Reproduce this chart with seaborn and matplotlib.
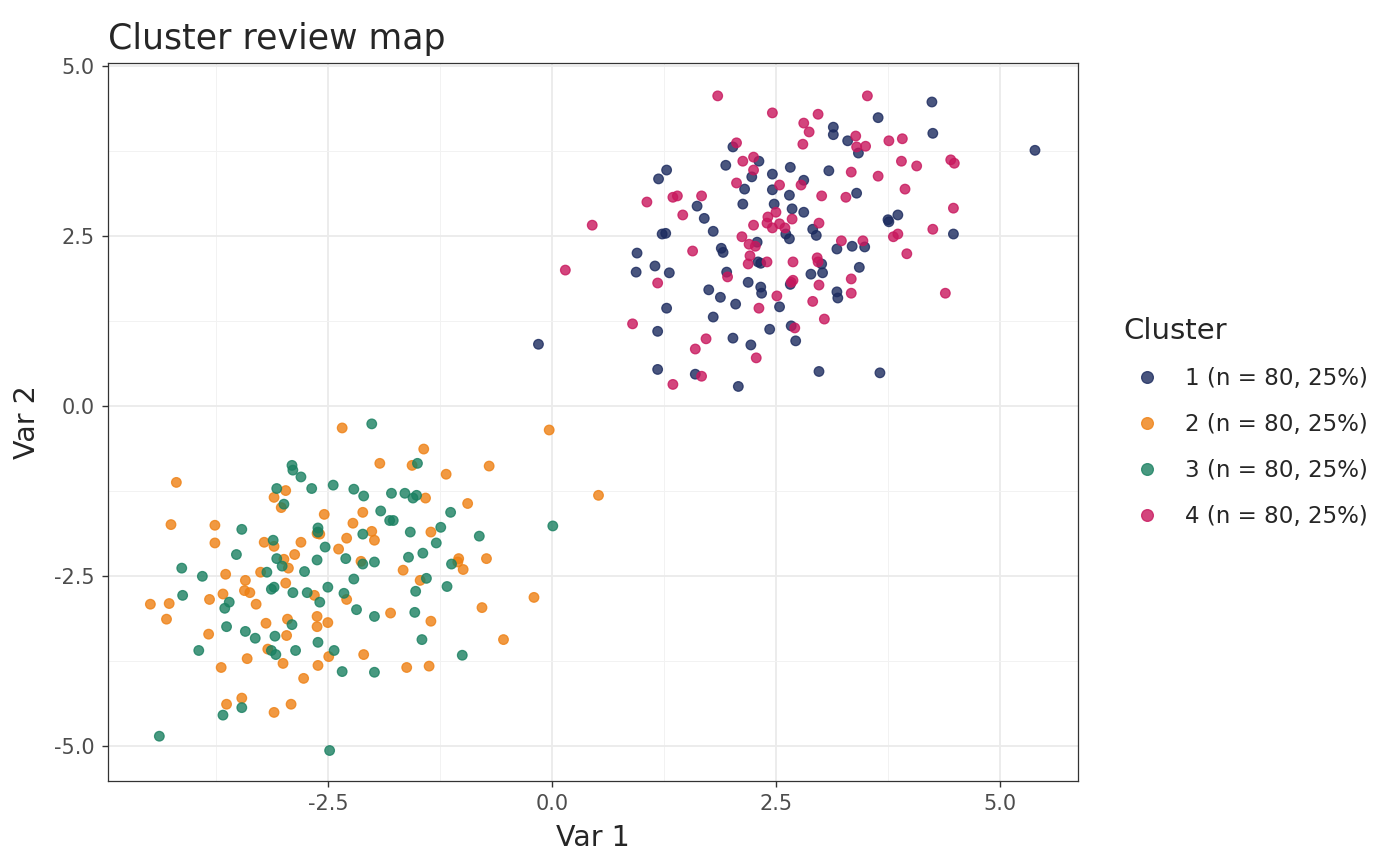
import matplotlib
matplotlib.use("Agg")
import matplotlib.pyplot as plt
from matplotlib.lines import Line2D
import seaborn as sns
import pandas as pd
import numpy as np

# cluster 1
c1_x = [5.39, 4.24, 4.25, 3.64, 3.14, 3.14, 3.30, 3.42, 2.02, 1.28,
        1.19, 1.94, 2.31, 2.23, 2.46, 2.15, 2.46, 2.13, 2.48, 1.62,
        1.70, 1.80, 1.23, 1.27, 2.29, 2.61, 2.65, 2.66, 2.65, 2.68,
        2.81, 2.81, 3.09, 3.40, 3.86, 3.75, 3.76, 2.91, 2.95, 4.48,
        0.95, 0.94, 1.15, 1.31, 1.89, 1.91, 2.30, 2.33, 1.95, 2.19,
        2.33, 2.34, 1.75, 1.88, 2.05, 2.54, 1.28, 1.80, 1.18, -0.15,
        2.02, 2.22, 2.43, 1.18, 1.60, 2.08, 2.67, 2.72, 2.66, 2.89,
        3.01, 3.02, 3.18, 3.19, 3.18, 3.35, 3.49, 3.43, 2.98, 3.66]
c1_y = [3.76, 4.47, 4.01, 4.24, 4.10, 3.99, 3.90, 3.72, 3.81, 3.47,
        3.34, 3.54, 3.60, 3.37, 3.41, 3.19, 3.18, 2.97, 2.97, 2.94,
        2.76, 2.57, 2.53, 2.54, 2.41, 2.53, 2.46, 3.51, 3.10, 2.90,
        3.32, 2.85, 3.46, 3.13, 2.81, 2.74, 2.71, 2.60, 2.51, 2.53,
        2.25, 1.97, 2.06, 1.96, 2.32, 2.26, 2.12, 2.10, 1.97, 1.82,
        1.75, 1.66, 1.71, 1.60, 1.50, 1.46, 1.44, 1.31, 1.10, 0.91,
        1.00, 0.90, 1.13, 0.54, 0.47, 0.29, 1.18, 0.96, 1.79, 1.94,
        2.09, 1.96, 1.68, 1.59, 2.31, 2.35, 2.34, 2.04, 0.51, 0.49]

# cluster 2
c2_x = [-2.34, -4.19, -4.25, -3.76, -3.76, -2.97, -3.10, -3.02, -2.54, -2.22,
        -2.11, -2.01, -1.98, -2.29, -2.59, -2.62, -3.21, -3.10, -2.80, -2.87,
        -2.99, -2.94, -3.25, -3.64, -3.42, -2.97, -2.38, -2.13, -0.03, -1.43,
        -1.92, -1.56, -0.70, -1.18, 0.52, -1.41, -0.94, -1.35, -1.04, -1.05,
        -0.99, -0.73, -1.66, -1.47, -4.48, -4.27, -4.30, -3.82, -3.67, -3.43,
        -3.37, -3.30, -3.83, -3.19, -2.95, -2.96, -3.17, -3.00, -3.40, -3.69,
        -2.62, -2.62, -2.50, -2.65, -2.29, -2.49, -2.61, -2.77, -2.10, -3.46,
        -3.63, -2.91, -3.10, -1.80, -1.35, -0.78, -0.20, -0.54, -1.62, -1.37]
c2_y = [-0.32, -1.12, -1.74, -1.75, -2.01, -1.24, -1.34, -1.49, -1.59, -1.72,
        -1.56, -1.84, -1.97, -1.94, -1.88, -1.87, -2.00, -2.06, -2.00, -2.18,
        -2.25, -2.38, -2.44, -2.47, -2.56, -2.60, -2.10, -2.28, -0.35, -0.63,
        -0.84, -0.87, -0.88, -1.00, -1.31, -1.35, -1.43, -1.85, -2.24, -2.29,
        -2.40, -2.24, -2.41, -2.56, -2.91, -2.90, -3.13, -2.84, -2.76, -2.71,
        -2.74, -2.91, -3.35, -3.19, -3.13, -3.37, -3.57, -3.78, -3.71, -3.84,
        -3.09, -3.24, -3.18, -2.78, -2.84, -3.68, -3.81, -4.00, -3.65, -4.29,
        -4.38, -4.38, -4.50, -3.04, -3.16, -2.96, -2.81, -3.43, -3.84, -3.82]

# cluster 3
c3_x = [-2.01, -2.90, -2.89, -2.80, -3.07, -2.99, -2.68, -2.44, -2.21, -2.10,
        -3.46, -2.61, -2.61, -3.11, -2.53, -2.30, -2.62, -2.11, -2.11, -1.98,
        -3.52, -3.07, -3.01, -3.18, -2.76, -4.13, -3.90, -2.50, -2.21, -1.50,
        -1.79, -1.64, -1.51, -1.55, -1.91, -1.81, -1.77, -1.13, -1.24, -1.58,
        -1.29, -0.81, 0.01, -1.44, -1.60, -1.12, -1.40, -1.17, -4.12, -3.60,
        -3.65, -3.63, -3.42, -3.31, -3.94, -3.13, -3.10, -2.89, -2.73, -2.59,
        -2.32, -2.18, -1.98, -2.90, -3.09, -3.13, -3.08, -2.86, -2.61, -2.43,
        -2.34, -1.98, -3.46, -3.67, -4.38, -2.48, -1.52, -1.53, -1.45, -1.00]
c3_y = [-0.26, -0.87, -0.94, -1.04, -1.21, -1.44, -1.21, -1.16, -1.22, -1.32,
        -1.81, -1.79, -1.85, -1.97, -2.07, -2.24, -2.26, -1.88, -2.32, -2.29,
        -2.18, -2.24, -2.35, -2.44, -2.43, -2.38, -2.50, -2.66, -2.54, -0.84,
        -1.28, -1.28, -1.31, -1.35, -1.54, -1.68, -1.68, -1.56, -1.78, -1.85,
        -2.01, -1.91, -1.76, -2.16, -2.22, -2.32, -2.53, -2.65, -2.78, -2.88,
        -2.97, -3.24, -3.31, -3.41, -3.59, -2.69, -2.66, -2.74, -2.74, -2.88,
        -2.75, -2.99, -3.09, -3.21, -3.38, -3.59, -3.65, -3.59, -3.47, -3.59,
        -3.90, -3.91, -4.43, -4.54, -4.85, -5.06, -2.72, -3.03, -3.43, -3.66]

# cluster 4
c4_x = [1.85, 2.46, 2.97, 2.81, 2.87, 2.80, 2.06, 2.13, 2.25, 2.25,
        2.06, 2.54, 2.78, 3.34, 3.64, 3.28, 3.01, 3.39, 3.50, 3.40,
        3.52, 3.76, 3.91, 3.90, 4.07, 4.45, 4.49, 3.94, 4.48, 4.25,
        3.81, 3.86, 3.23, 3.47, 1.67, 1.40, 1.35, 1.06, 1.46, 0.45,
        2.41, 2.50, 2.40, 2.54, 2.46, 2.68, 2.25, 2.98, 2.12, 1.57,
        0.15, 1.18, 2.20, 2.27, 2.21, 2.19, 2.40, 1.96, 2.51, 2.31,
        0.90, 1.72, 1.60, 2.28, 1.67, 1.35, 2.69, 2.96, 2.97, 2.69,
        2.67, 2.98, 2.91, 3.34, 3.34, 3.04, 2.71, 3.96, 4.39, 2.60]
c4_y = [4.56, 4.31, 4.29, 4.16, 4.03, 3.85, 3.87, 3.60, 3.66, 3.47,
        3.28, 3.25, 3.25, 3.44, 3.38, 3.07, 3.09, 3.97, 3.82, 3.81,
        4.56, 3.90, 3.93, 3.60, 3.53, 3.62, 3.57, 3.19, 2.91, 2.60,
        2.49, 2.53, 2.43, 2.43, 3.09, 3.09, 3.07, 3.00, 2.81, 2.66,
        2.78, 2.85, 2.69, 2.68, 2.62, 2.75, 2.66, 2.69, 2.49, 2.28,
        2.00, 1.81, 2.38, 2.35, 2.21, 2.09, 2.12, 1.90, 1.62, 1.44,
        1.21, 0.99, 0.84, 0.71, 0.44, 0.32, 2.12, 2.18, 2.12, 1.85,
        1.82, 1.78, 1.54, 1.87, 1.66, 1.28, 1.15, 2.24, 1.66, 2.62]

labels = ["1 (n = 80, 25%)", "2 (n = 80, 25%)", "3 (n = 80, 25%)", "4 (n = 80, 25%)"]
colors = ["#1B2A5E", "#EE8013", "#1A8061", "#C8175D"]

x_ticks = [-2.5, 0.0, 2.5, 5.0]
y_ticks = [-5.0, -2.5, 0.0, 2.5, 5.0]

df = pd.DataFrame({
    "Var 1": c1_x + c2_x + c3_x + c4_x,
    "Var 2": c1_y + c2_y + c3_y + c4_y,
    "Cluster": [labels[0]] * len(c1_x) + [labels[1]] * len(c2_x)
               + [labels[2]] * len(c3_x) + [labels[3]] * len(c4_x),
})

sns.set_theme(style="white")
plt.rcParams["font.family"] = ["DejaVu Sans"]

fig = plt.figure(figsize=(14, 8.66), dpi=100)
ax = fig.add_axes([0.077, 0.098, 0.693, 0.829])

sns.scatterplot(data=df, x="Var 1", y="Var 2", hue="Cluster",
                palette=dict(zip(labels, colors)), hue_order=labels,
                s=48, alpha=0.8, linewidth=0.9, legend=False, ax=ax)
# ggplot-style points: outline in the same colour as the fill
pts = ax.collections[0]
pts.set_edgecolor(pts.get_facecolor())

ax.set_xlim(-4.955, 5.87)
ax.set_ylim(-5.51, 5.04)
ax.set_xticks(x_ticks)
ax.set_xticklabels([f"{t:.1f}" for t in x_ticks])
ax.set_yticks(y_ticks)
ax.set_yticklabels([f"{t:.1f}" for t in y_ticks])
ax.set_xticks([-3.75, -1.25, 1.25, 3.75], minor=True)
ax.set_yticks([-3.75, -1.25, 1.25, 3.75], minor=True)
ax.grid(True, which="major", color="#EBEBEB", linewidth=1.3)
ax.grid(True, which="minor", color="#F2F2F2", linewidth=0.7)
ax.set_axisbelow(True)
ax.tick_params(which="major", direction="out", length=4.5, width=1.0,
               color="#333333", labelsize=15, labelcolor="#4D4D4D",
               bottom=True, left=True, pad=5)
ax.tick_params(which="minor", length=0)
for sp in ax.spines.values():
    sp.set_color("#333333")
    sp.set_linewidth(0.9)

ax.set_xlabel("Var 1", fontsize=20.5, labelpad=7)
ax.set_ylabel("Var 2", fontsize=20.5, labelpad=9)
ax.set_title("Cluster review map", fontsize=25, loc="left", pad=10)

handles = [Line2D([], [], marker="o", linestyle="", markersize=8.5,
                  markerfacecolor=c, markeredgecolor=c, markeredgewidth=0.9,
                  alpha=0.8) for c in colors]
leg = ax.legend(handles, labels, title="Cluster", loc="center left",
                bbox_to_anchor=(1.047, 0.5), frameon=False, fontsize=16.6,
                title_fontsize=21, labelspacing=0.99, handletextpad=0.65,
                handlelength=2.0, borderpad=0, borderaxespad=0)
leg._legend_box.align = "left"

fig.savefig("out.png", dpi=100)
